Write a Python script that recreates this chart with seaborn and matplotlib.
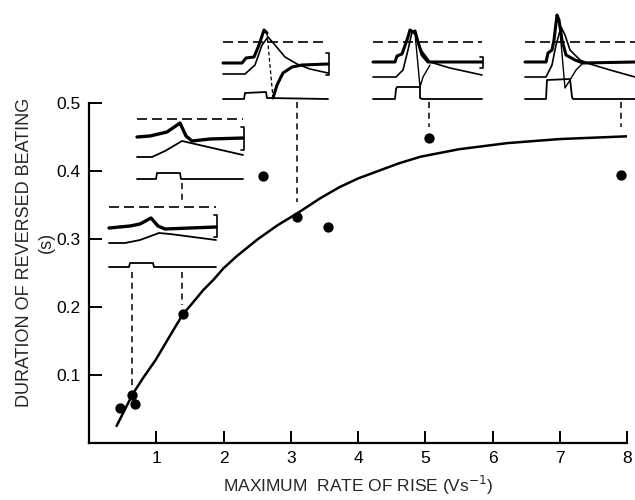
import matplotlib
matplotlib.use("Agg")
import matplotlib.pyplot as plt
import seaborn as sns
import numpy as np
import pandas as pd

# ---------------- data ----------------
rate = [0.46, 0.645, 0.69, 1.40, 2.58, 3.10, 3.55, 5.05, 7.91]
duration = [0.051, 0.070, 0.057, 0.189, 0.392, 0.333, 0.318, 0.448, 0.394]

curve_x = [0.41, 0.65, 0.80, 0.99, 1.20, 1.40, 1.49, 1.70, 1.85, 2.00, 2.20, 2.50, 2.80,
           3.10, 3.44, 3.72, 4.00, 4.30, 4.60, 4.93, 5.50, 6.22, 7.00, 8.0]
curve_y = [0.025, 0.072, 0.095, 0.122, 0.157, 0.190, 0.200, 0.225, 0.240, 0.257, 0.275,
           0.299, 0.320, 0.338, 0.360, 0.376, 0.389, 0.400, 0.411, 0.421, 0.432, 0.441,
           0.447, 0.451]

x_ticks = [1, 2, 3, 4, 5, 6, 7, 8]
y_ticks = [0.1, 0.2, 0.3, 0.4, 0.5]

# connectors (rate, from, to)
conn_x = [0.645, 1.38, 1.38, 3.10, 5.05, 7.91]
conn_y0 = [0.251, 0.382, 0.251, 0.502, 0.502, 0.502]
conn_y1 = [0.080, 0.357, 0.203, 0.355, 0.465, 0.465]

# inset traces (local record coordinates, y downwards)
A_thick = [(3, 23), (24, 21), (34, 19), (45, 13), (52, 21), (59, 24), (84, 23), (110, 22)]
A_thin = [(3, 38), (19, 38), (34, 35), (53, 28), (64, 29), (110, 35)]
A_step = [(3, 62), (23, 62), (24, 58), (47, 58), (48, 62), (110, 62)]

B_thick = [(2, 20), (15, 19), (32, 15), (45, 6), (51, 19), (57, 24), (75, 22), (108, 21)]
B_thin = [(2, 40), (17, 40), (30, 34), (47, 24), (60, 27), (108, 38)]
B_step = [(2, 62), (21, 62), (22, 56), (45, 56), (46, 62), (108, 62)]

C_thick1 = [(2, 53), (21, 53), (25, 48), (33, 47), (38, 35), (43, 20), (46, 23)]
C_spike = [(46, 23), (52, 88)]
C_thick2 = [(52, 88), (56, 75), (62, 63), (71, 57), (81, 55), (107, 54)]
C_thin = [(2, 64), (24, 64), (34, 55), (41, 35), (47, 27), (54, 35), (64, 47), (76, 54), (89, 59), (107, 63)]
C_step = [(2, 89), (23, 89), (24, 83), (45, 82), (46, 88), (107, 89)]

D_thick = [(2, 52), (24, 52), (26, 46), (31, 44), (36, 30), (39, 20), (42, 22), (44, 21), (47, 32), (51, 45), (57, 52), (111, 52)]
D_thin = [(2, 67), (25, 67), (32, 60), (37, 40), (41, 22), (45, 25), (50, 40), (59, 52), (79, 58), (111, 65)]
D_spike = [(44, 23), (49, 77), (52, 67), (59, 55)]
D_step = [(2, 89), (24, 89), (25, 79), (26, 77), (49, 77), (49, 88), (51, 89), (111, 89)]

E_thick = [(2, 52), (23, 52), (25, 43), (29, 40), (31, 30), (34, 5), (36, 10), (39, 30), (43, 45), (52, 50), (60, 53), (112, 52)]
E_thin = [(2, 67), (23, 67), (29, 55), (33, 35), (38, 17), (42, 25), (47, 40), (57, 50), (67, 54), (87, 60), (112, 67)]
E_spike = [(36, 10), (42, 78), (47, 70), (53, 60), (60, 53)]
E_step = [(2, 89), (23, 89), (24, 70), (47, 69), (49, 87), (50, 89), (112, 89)]

# ---------------- figure ----------------
sns.set_theme(style="ticks")
plt.rcParams['font.family'] = ['Liberation Sans', 'DejaVu Sans']

W, H = 635, 500
fig = plt.figure(figsize=(W / 100, H / 100), dpi=100)
ax = fig.add_axes([89 / W, 57 / H, 538 / W, 340 / H])

df_pts = pd.DataFrame({"rate": rate, "duration": duration})
df_curve = pd.DataFrame({"rate": curve_x, "duration": curve_y})
sns.lineplot(data=df_curve, x="rate", y="duration", ax=ax, color="black", lw=1.8, sort=True)
sns.scatterplot(data=df_pts, x="rate", y="duration", ax=ax, color="black", s=55,
                edgecolor="black", linewidth=0, zorder=5)

for cx, a0, a1 in zip(conn_x, conn_y0, conn_y1):
    ax.plot([cx, cx], [a0, a1], color="black", lw=1.1, ls=(0, (4, 3)), clip_on=False)

ax.set_xlim(0, 8)
ax.set_ylim(0, 0.5)
ax.set_xticks(x_ticks)
ax.set_xticklabels([str(t) for t in x_ticks])
ax.set_yticks(y_ticks)
ax.set_yticklabels([f"{t:.1f}" for t in y_ticks])
ax.tick_params(direction="in", length=9, width=1.4, labelsize=12.5, colors="black", pad=6)
for s in ["top", "right"]:
    ax.spines[s].set_visible(False)
for s in ["left", "bottom"]:
    ax.spines[s].set_linewidth(1.6)
    ax.spines[s].set_color("black")
ax.set_facecolor("none")

ax.set_xlabel("MAXIMUM  RATE OF RISE (Vs$^{-1}$)", fontsize=12.5)
ax.xaxis.set_label_coords(0.5, (443 - 485) / 340)
ax.xaxis.label.set_va("center")
ax.set_ylabel("")
fig.text(25 / W, 1 - 252 / H, "DURATION OF REVERSED BEATING", rotation=90,
         ha="center", va="center", fontsize=13)
fig.text(46 / W, 1 - 242 / H, "(s)", rotation=90, ha="center", va="center", fontsize=13)


def inset(left, top, w, h):
    a = fig.add_axes([left / W, 1 - (top + h) / H, w / W, h / H])
    a.set_xlim(0, w)
    a.set_ylim(h, 0)
    a.axis("off")
    a.patch.set_alpha(0)
    return a


def trace(a, pts, **kw):
    xs, ys = zip(*pts)
    a.plot(xs, ys, color="black", solid_joinstyle="round", **kw)


def bracket(a, x, y0, y1):
    a.plot([x - 3, x, x, x - 3], [y0, y0, y1, y1], color="black", lw=1.2)


dash = (0, (6, 3))

# inset A
a = inset(106, 205, 115, 70)
a.plot([3, 110], [2, 2], color="black", lw=1.2, ls=dash)
trace(a, A_thick, lw=2.4)
trace(a, A_thin, lw=1.3)
trace(a, A_step, lw=1.3)
bracket(a, 111, 10, 32)

# inset B
a = inset(135, 117, 112, 68)
a.plot([2, 108], [2, 2], color="black", lw=1.2, ls=dash)
trace(a, B_thick, lw=2.4)
trace(a, B_thin, lw=1.3)
trace(a, B_step, lw=1.3)
bracket(a, 109, 10, 33)

# inset C
a = inset(221, 10, 112, 95)
a.plot([2, 107], [32, 32], color="black", lw=1.2, ls=dash)
trace(a, C_thick1, lw=2.2)
trace(a, C_spike, lw=0.9, ls=(0, (3, 2)))
trace(a, C_thick2, lw=2.2)
trace(a, C_thin, lw=1.2)
trace(a, C_step, lw=1.3)
bracket(a, 108, 43, 65)

# inset D
a = inset(371, 10, 115, 95)
a.plot([2, 111], [32, 32], color="black", lw=1.2, ls=dash)
trace(a, D_thick, lw=2.2)
trace(a, D_thin, lw=1.2)
trace(a, D_spike, lw=1.0)
trace(a, D_step, lw=1.3)
bracket(a, 112, 47, 58)

# inset E
a = inset(523, 10, 112, 95)
a.plot([2, 112], [32, 32], color="black", lw=1.2, ls=dash)
trace(a, E_thick, lw=2.2)
trace(a, E_thin, lw=1.2)
trace(a, E_spike, lw=1.0)
trace(a, E_step, lw=1.3)

fig.savefig("out.png", dpi=100, facecolor="white")
